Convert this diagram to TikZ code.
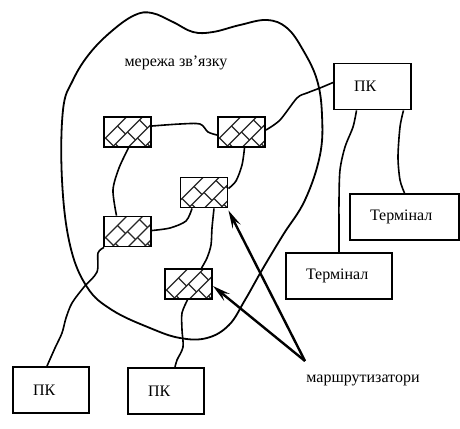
\documentclass[tikz,border=0pt]{standalone}
\usepackage{fontspec}
\setmainfont{Liberation Serif}
\newfontfamily\diagfont{Liberation Serif}
\usetikzlibrary{arrows.meta,calc}
\begin{document}
\begin{tikzpicture}[x=1pt,y=-1pt,
 every node/.style={font=\diagfont\fontsize{16}{19}\selectfont},
 box/.style={draw, line width=1.9pt, minimum height=46pt, inner xsep=20pt, inner ysep=0pt, text width=#1, align=left},
 hatchline/.style={line width=1.1pt, black!85},
 router/.style={draw, line width=1.9pt, minimum width=47pt, minimum height=30pt, inner sep=0pt, path picture={
   \begin{scope}[shift={(path picture bounding box.north west)}]
   \foreach \c [count=\i] in {-16,0,16,32,48,64,80}{
     \draw[hatchline] (\c+15,-15) -- (\c-45,45);
     \foreach \t in {-12,0,12,24,36}{
       \pgfmathsetmacro{\tq}{\t+6*mod(\i,2)}
       \pgfmathsetmacro{\xq}{\c-\tq}
       \draw[hatchline] (\xq,\tq) -- ++(8,8);
     }
   }
   \end{scope}}},
 wire/.style={line width=1.6pt},
 blobline/.style={line width=1.8pt},
 pointer/.style={line width=2.4pt, -{Stealth[length=18pt,width=9pt,inset=7pt]}}
]
\useasboundingbox (0,0) rectangle (460,428);

% cloud of the network
\draw[blobline] plot[smooth cycle, tension=0.65] coordinates {
 (63,110) (73,80) (90,53) (113,30) (135,15) (152,13) (173,22) (193,32) (213,32) (240,25) (267,20) (287,28) (303,50) (317,80) (322,115)
 (320,155) (305,200) (283,235) (262,270) (245,300) (229,325) (207,338) (180,338) (150,328) (112,310) (87,287) (70,245) (62,180)};

\node (net) at (176,63) {мережа зв’язку};

% boxes
\node[box=37pt] (pk) at (372.5,86.5) {ПК};
\node[box=69pt] (t1) at (404.5,217) {Термінал};
\node[box=66pt] (t2) at (339,276) {Термінал};
\node[box=36pt] (pk1) at (51,390) {ПК};
\node[box=36pt] (pk2) at (166,391) {ПК};

% routers
\node[router] (r1) at (127.5,132) {};
\node[router] (r2) at (241.5,132) {};
\node[router] (r3) at (204,192.5) {};
\node[router] (r4) at (127.5,231.5) {};
\node[router] (r5) at (188.5,284) {};

% wires
\draw[wire] plot[smooth, tension=0.5] coordinates {($(r1.east)+(0,-6)$) (180,124) (200,124) (208,132) ($(r2.west)+(0,3)$)};
\draw[wire] plot[smooth] coordinates {($(r1.south)+(1,0)$) (119,168) (113,190) ($(r4.north)+(-11,0)$)};
\draw[wire] plot[smooth] coordinates {($(r2.south)+(3,0)$) (242,165) (236,181) ($(r3.east)+(0,-4)$)};
\draw[wire] plot[smooth] coordinates {($(r3.south)+(-12,0)$) (186,221) (170,228) ($(r4.east)+(0,-1)$)};
\draw[wire] plot[smooth] coordinates {($(r3.south)+(10,0)$) (212,228) (211,245) (207,258) ($(r5.north)+(13,0)$)};
\draw[wire] plot[smooth] coordinates {($(r4.south west)+(1,0)$) (98,253) (97,272) (84,287) (72,303) (66,318) (62,333) (55,348) ($(pk1.north)+(-4,0)$)};
\draw[wire] plot[smooth] coordinates {($(r5.south)+(-1,0)$) (182,313) (182,330) (183,347) (177,360) ($(pk2.north)+(9,0)$)};
\draw[wire] plot[smooth] coordinates {($(r2.east)+(0,-2)$) (280,120) (297,98) (307,93) (320,88) ($(pk.west)+(0,-4)$)};
\draw[wire] plot[smooth] coordinates {($(pk.south)+(-16,0)$) (353,127) (345,147) (340,170) (339,200) (339,230) (t2.north)};
\draw[wire] plot[smooth] coordinates {($(pk.south)+(31,0)$) (400,127) (398,157) (400,180) (t1.north)};

% label and arrows
\node (lbl) at (363,380) {маршрутизатори};
\coordinate (src) at (305,361);
\draw[pointer] (src) -- ($(r3.south east)+(0,2)$);
\draw[pointer] (src) -- ($(r5.east)+(0,2)$);
\end{tikzpicture}
\end{document}
